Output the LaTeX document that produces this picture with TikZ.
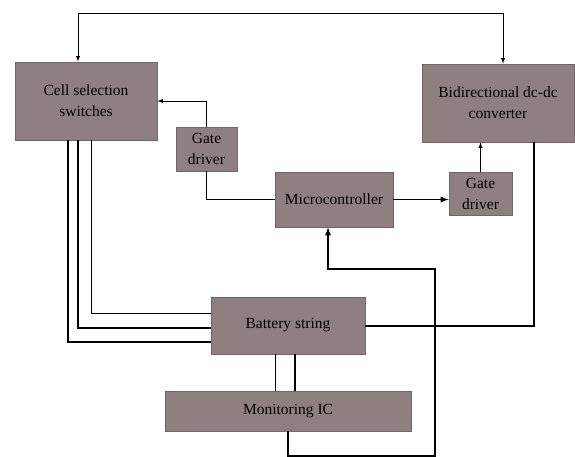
\documentclass[tikz,border=0pt]{standalone}
\usepackage{fontspec}
\setmainfont{Liberation Serif}
\usepackage{tikz}
\definecolor{boxfill}{RGB}{142,128,128}
\definecolor{boxline}{RGB}{112,102,102}
\begin{document}
\begin{tikzpicture}[x=1pt,y=-1pt,>=latex,
  main/.style = {draw=boxline, fill=boxfill, line width=0.8pt, inner sep=0pt, align=center, font=\fontsize{15.5}{21}\selectfont},
  wire/.style = {line width=0.9pt},
  bus/.style = {line width=1.7pt}]
\useasboundingbox (0,0) rectangle (575,457);
\node[main, minimum width=142pt, minimum height=78pt] (1) at (86,101) {Cell selection\\switches};
\node[main, minimum width=152pt, minimum height=78pt] (2) at (498,103) {Bidirectional dc-dc\\converter};
\node[main, minimum width=61pt, minimum height=44pt] (3) at (206.5,149) {Gate\\driver};
\node[main, minimum width=118pt, minimum height=55pt] (4) at (334,199.5) {Microcontroller};
\node[main, minimum width=63pt, minimum height=43pt] (5) at (480.5,193.5) {Gate\\driver};
\node[main, minimum width=154pt, minimum height=57pt] (6) at (288,325.5) {Battery string};
\node[main, minimum width=246pt, minimum height=40pt] (7) at (288,411) {Monitoring IC};
% top loop
\coordinate (t1) at (78,13);
\coordinate (t2) at (503,13);
\draw[wire,<->] (1.north -| t1) -- (t1) -- (t2) -- (2.north -| t2);
% gate drivers
\draw[wire,->] (3.north) |- (1.east);
\draw[wire] (3.south) |- (4.west);
\draw[bus,->] (4.east) -- (5.west |- 4.east);
\draw[wire,->] (5.north) -- (5.north |- 2.south);
% converter to battery
\coordinate (c1) at (534,326);
\draw[bus] (2.south -| c1) -- (c1) -- (6.east |- c1);
% switches to battery
\foreach \x/\y/\w in {68/342/bus, 78/328/bus, 91/313/wire}
  \draw[\w] (1.south -| \x,0) |- (6.west |- 0,\y);
% battery to monitor
\draw[wire] (6.south -| 275,0) -- (7.north -| 275,0);
\draw[bus] (6.south -| 295,0) -- (7.north -| 295,0);
% monitor to microcontroller
\draw[bus,->] (7.south) |- (435,456) |- (328,269) -- (4.south -| 328,0);
\end{tikzpicture}
\end{document}
